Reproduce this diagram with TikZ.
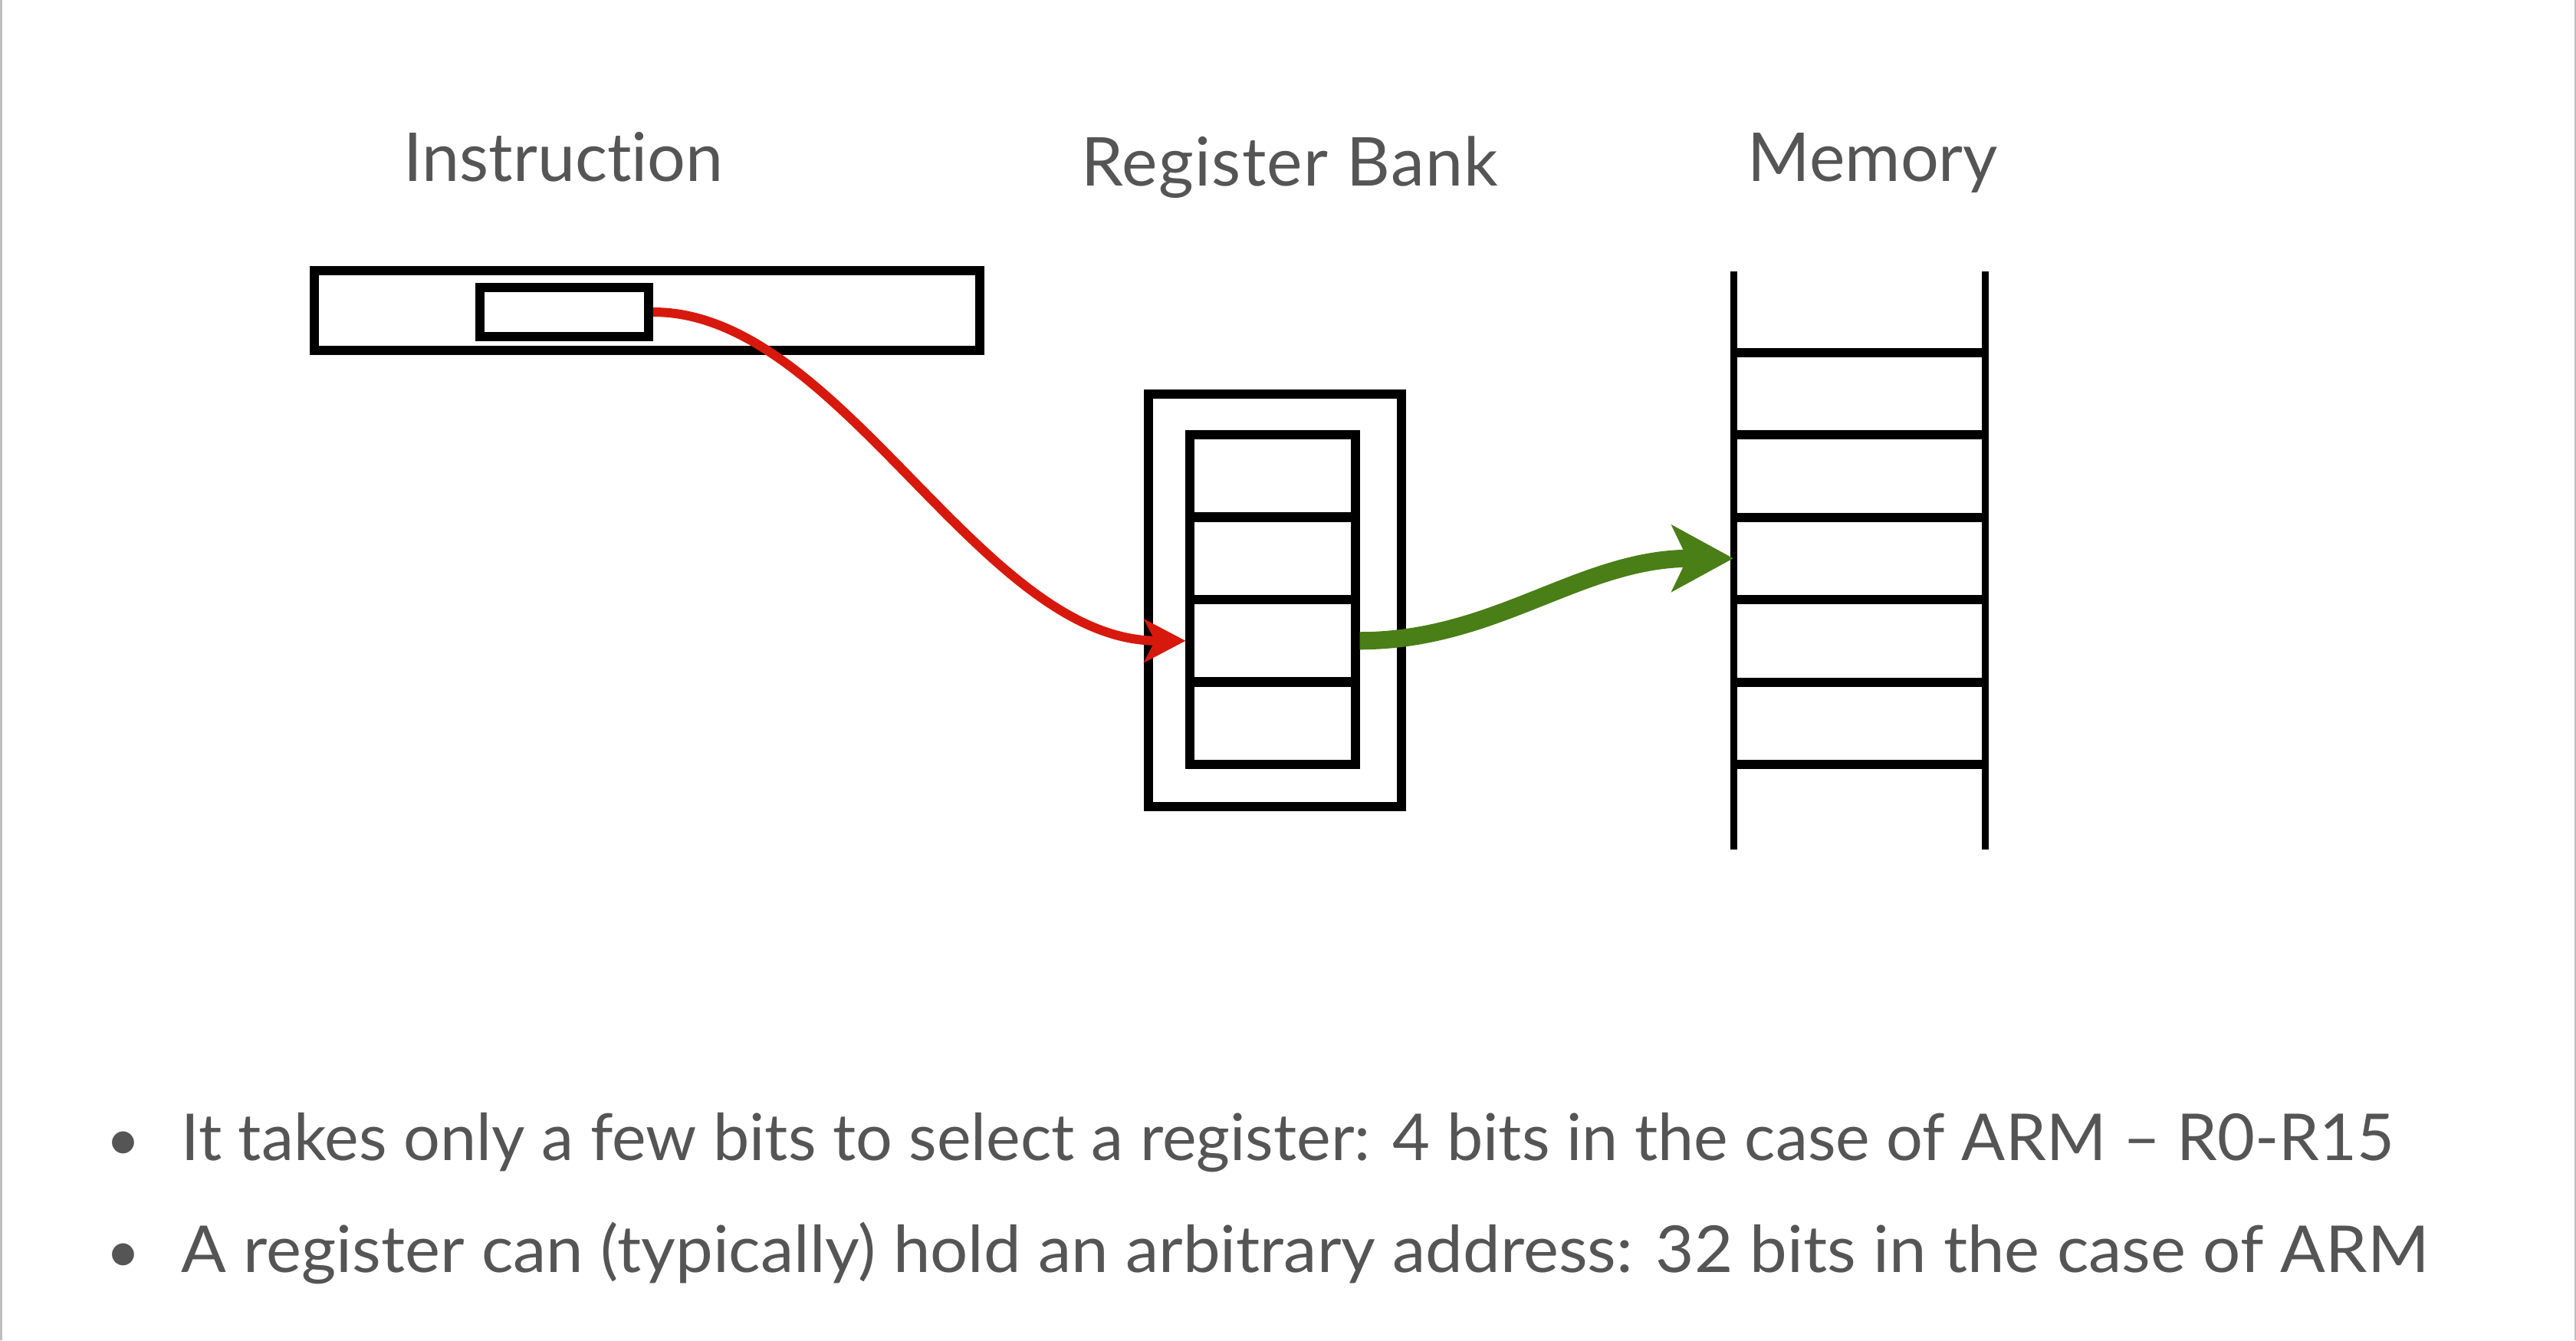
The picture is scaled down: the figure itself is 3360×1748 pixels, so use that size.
\documentclass[tikz,border=0pt]{standalone}
\usepackage{fontspec}
\setmainfont{Lato}[Ligatures=NoCommon]
\usepackage{tikz}
\usetikzlibrary{arrows.meta}

\definecolor{txtgray}{HTML}{555555}
\definecolor{selred}{HTML}{D7190D}
\definecolor{addrgreen}{HTML}{4A7E17}

\begin{document}
\begin{tikzpicture}[x=0.01cm,y=-0.01cm]
					\tikzstyle{box}=[rectangle,draw=black,line width=0.12cm,inner sep=0pt]
					\tikzstyle{cell}=[box,minimum width=2.15cm,minimum height=1.075cm]
					\tikzstyle{title}=[text=txtgray,anchor=base,font=\fontsize{25}{30}\selectfont]
					\tikzstyle{bullet}=[text=txtgray,anchor=base west,inner sep=0pt,font=\fontsize{24}{29}\selectfont]
					\tikzstyle{dot}=[text=txtgray,anchor=base,inner sep=0pt,font=\fontsize{22}{29}\selectfont]
					\useasboundingbox (0,0) rectangle (3360,1748);
					\draw[gray!50,line width=0.03cm] (1,0) -- (1,1748);
					\draw[gray!50,line width=0.03cm] (3359,0) -- (3359,1748);
					% labels
					\node[title] (t1) at (735,236) {Instruction};
					\node[title] (t2) at (1682,242) {\addfontfeature{LetterSpace=1.5}Register Bank};
					\node[title] (t3) at (2443,236) {Memory};
					% instruction word
					\node[box,minimum width=8.68cm,minimum height=1.04cm] (instr) at (844,405) {};
					\node[box,minimum width=2.2cm,minimum height=0.63cm] (field) at (736,407) {};
					% register bank
					\node[cell] (r1) at (1660,620.75) {};
					\node[cell] (r2) at (1660,728.25) {};
					\node[cell] (r3) at (1660,835.75) {};
					\node[cell] (r4) at (1660,943.25) {};
					\node[box,minimum width=3.30cm,minimum height=5.38cm] (bank) at (1663,783) {};
					% memory
					\draw[line width=0.09cm] (2261,354) -- (2261,1108);
					\draw[line width=0.09cm] (2589,354) -- (2589,1108);
					\foreach \y in {459.5,567,674.5,782,889.5,997}
						\draw[line width=0.12cm] (2261,\y) -- (2589,\y);
					\node[minimum width=3.28cm,minimum height=1.075cm,inner sep=0pt,outer sep=0pt] (mem3) at (2425,728.25) {};
					% connectors
					\draw[selred,line width=0.12cm,-{Stealth[length=0.54cm,width=0.56cm,inset=0.14cm]}]
						(field.east) .. controls +(245,0) and +(-269,0) .. (r3.west);
					\draw[addrgreen,line width=0.23cm,-{Stealth[length=0.8cm,width=0.86cm,inset=0.2cm]}]
						(r3.east) .. controls +(178,0) and +(-200,0) .. (mem3.west);
					% bullets
					\node[dot] (d1) at (161,1513) {•};
					\node[bullet] (b1) at (236,1513) {It takes only a few bits to select a register: 4 bits in the case of ARM – R0-R15};
					\node[dot] (d2) at (161,1659) {•};
					\node[bullet,xscale=1.03,transform shape] (b2) at (236,1659) {A register can (typically) hold an arbitrary address: 32 bits in the case of ARM};
					\end{tikzpicture}
\end{document}
